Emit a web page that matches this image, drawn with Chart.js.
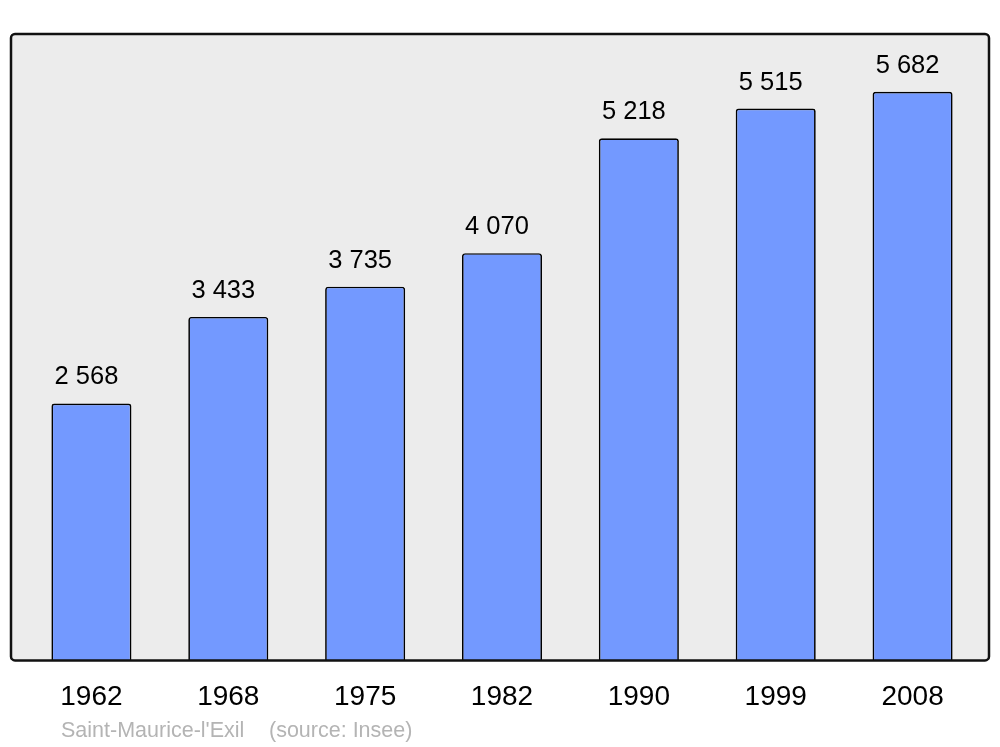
<!DOCTYPE html>
<html>
<head>
<meta charset="utf-8">
<script src="https://cdn.jsdelivr.net/npm/chart.js@4/dist/chart.umd.min.js"></script>
<style>
  html, body { margin: 0; padding: 0; background: #fff; }
  #wrap { width: 1000px; height: 747px; position: relative; }
</style>
</head>
<body>
<div id="wrap"><canvas id="pop-chart" width="1000" height="747"></canvas></div>
<script>
// Population data
const years = ['1962', '1968', '1975', '1982', '1990', '1999', '2008'];
const population = [2568, 3433, 3735, 4070, 5218, 5515, 5682];
const townName = "Saint-Maurice-l'Exil";
const sourceNote = '(source: Insee)';

// format 5682 -> "5 682"
function fmt(n) {
  return String(n).replace(/\B(?=(\d{3})+(?!\d))/g, ' ');
}

// grey frame behind the bars
const framePlugin = {
  id: 'frame',
  beforeDraw(chart) {
    const { ctx, chartArea } = chart;
    const x = chartArea.left - 12, y = chartArea.top, w = chartArea.right - chartArea.left + 20, h = chartArea.bottom - chartArea.top;
    ctx.save();
    ctx.beginPath();
    ctx.roundRect(x, y, w, h, 4);
    ctx.fillStyle = '#ececec';
    ctx.fill();
    ctx.restore();
  },
  afterDraw(chart) {
    const { ctx, chartArea } = chart;
    const x = chartArea.left - 12, y = chartArea.top, w = chartArea.right - chartArea.left + 20, h = chartArea.bottom - chartArea.top;
    ctx.save();
    ctx.beginPath();
    ctx.roundRect(x, y, w, h, 4);
    ctx.lineWidth = 2.5;
    ctx.strokeStyle = '#111';
    ctx.stroke();

    // source line under the axis
    ctx.font = '21.5px "Liberation Sans", Arial, sans-serif';
    ctx.fillStyle = '#b4b4b4';
    ctx.textBaseline = 'alphabetic';
    ctx.fillText(townName, 61, 737);
    ctx.fillText(sourceNote, 269, 737);
    ctx.restore();
  }
};

// numbers above each bar
const valueLabels = {
  id: 'valueLabels',
  afterDatasetsDraw(chart) {
    const { ctx } = chart;
    const meta = chart.getDatasetMeta(0);
    ctx.save();
    ctx.font = '25.5px "Liberation Sans", Arial, sans-serif';
    ctx.fillStyle = '#000';
    ctx.textAlign = 'center';
    ctx.textBaseline = 'alphabetic';
    meta.data.forEach(function (bar, i) {
      ctx.fillText(fmt(population[i]), bar.x - 5, bar.y - 19);
    });
    ctx.restore();
  }
};

const ctx = document.getElementById('pop-chart').getContext('2d');
new Chart(ctx, {
  type: 'bar',
  data: {
    labels: years,
    datasets: [{
      data: population,
      backgroundColor: '#7399ff',
      borderColor: '#000',
      borderWidth: 1.7,
      borderRadius: { topLeft: 3, topRight: 3, bottomLeft: 0, bottomRight: 0 },
      borderSkipped: 'bottom',
      categoryPercentage: 1,
      barPercentage: 0.585
    }]
  },
  options: {
    responsive: false,
    animation: false,
    layout: { padding: { left: 23, right: 19, top: 34, bottom: 13 } },
    plugins: {
      legend: { display: false },
      tooltip: { enabled: false }
    },
    scales: {
      x: {
        grid: { display: false, drawTicks: false },
        border: { display: false },
        ticks: {
          color: '#000',
          padding: 20,
          font: { family: '"Liberation Sans", Arial, sans-serif', size: 28 }
        }
      },
      y: {
        display: false,
        min: 0,
        max: 6260
      }
    }
  },
  plugins: [framePlugin, valueLabels]
});
</script>
</body>
</html>
